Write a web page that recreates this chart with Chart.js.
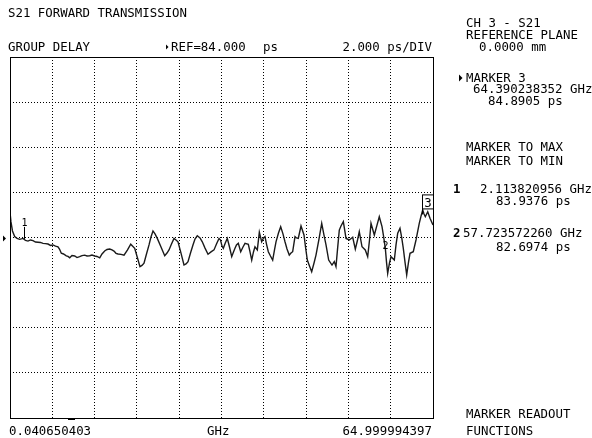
<!DOCTYPE html>
<html>
<head>
<meta charset="utf-8">
<script src="https://cdn.jsdelivr.net/npm/chart.js@4.4.1/dist/chart.umd.min.js"></script>
<style>
  html, body { margin: 0; padding: 0; background: #fff; }
  canvas { display: block; }
</style>
</head>
<body>
<canvas id="chart" width="592" height="438"></canvas>
<script>
/* ===== SWEEP / SCALE ===== */
const START_GHZ = 0.040650403;
const STOP_GHZ = 64.999994397;
const REF_PS = 84;
const PS_PER_DIV = 2;
const X_DIVS = 10;
const Y_DIVS = 8;

/* ===== TRACE ===== */
const freqGHz = [
  0.04, 0.19, 0.42, 0.76, 1.12, 1.53, 2.04, 2.42, 2.80, 3.19,
  3.57, 3.96, 4.34, 4.72, 5.11, 5.49, 5.88, 6.26, 6.64, 7.03,
  7.41, 7.64, 7.92, 8.26, 8.69, 8.95, 9.21, 9.56, 9.98, 10.33,
  10.74, 11.10, 11.51, 11.87, 12.28, 12.63, 13.05, 13.40, 13.82, 14.17,
  14.58, 14.94, 15.35, 15.70, 16.01, 16.32, 16.63, 17.09, 17.55, 18.09,
  18.58, 18.85, 19.19, 19.62, 20.00, 20.31, 20.62, 21.00, 21.39, 21.69,
  22.00, 22.31, 22.66, 23.23, 23.80, 24.15, 24.46, 24.84, 25.23, 25.53,
  25.84, 26.30, 26.76, 27.07, 27.38, 27.76, 28.14, 28.45, 28.80, 29.22,
  29.57, 29.99, 30.45, 30.91, 31.37, 31.75, 32.14, 32.37, 32.60, 32.80,
  33.10, 33.41, 33.75, 34.09, 34.36, 34.59, 34.82, 35.10, 35.47, 35.82,
  36.13, 36.64, 36.90, 37.16, 37.43, 37.66, 38.02, 38.33, 38.69, 38.97,
  39.20, 39.43, 39.71, 40.04, 40.38, 40.66, 40.89, 41.27, 41.61, 41.96,
  42.27, 42.58, 42.93, 43.19, 43.45, 43.81, 44.04, 44.31, 44.73, 45.19,
  45.42, 45.70, 46.03, 46.37, 46.73, 47.03, 47.49, 47.91, 48.26, 48.57,
  48.98, 49.49, 49.84, 50.10, 50.33, 50.61, 50.87, 51.23, 51.49, 51.64,
  52.15, 52.67, 53.07, 53.41, 53.68, 54.10, 54.60, 54.97, 55.25, 55.48,
  55.99, 56.40, 56.75, 57.17, 57.40, 57.68, 57.86, 58.04, 58.32, 58.55,
  59.06, 59.32, 59.58, 59.93, 60.20, 60.44, 60.70, 60.96, 61.24, 61.47,
  61.97, 62.39, 62.89, 63.16, 63.42, 63.62, 63.82, 64.19, 64.54, 65.00
];
const delayPs = [
  85.13, 84.69, 84.29, 84.04, 83.96, 83.92, 83.96, 83.87, 83.84, 83.89,
  83.86, 83.80, 83.79, 83.78, 83.74, 83.73, 83.71, 83.65, 83.67, 83.62,
  83.59, 83.49, 83.30, 83.27, 83.19, 83.16, 83.10, 83.20, 83.18, 83.11,
  83.15, 83.20, 83.22, 83.18, 83.19, 83.22, 83.18, 83.16, 83.10, 83.27,
  83.40, 83.47, 83.49, 83.45, 83.40, 83.30, 83.27, 83.25, 83.22, 83.45,
  83.70, 83.62, 83.52, 83.09, 82.71, 82.76, 82.86, 83.27, 83.67, 84.02,
  84.29, 84.16, 83.96, 83.58, 83.19, 83.31, 83.45, 83.71, 83.96, 83.89,
  83.81, 83.31, 82.78, 82.83, 82.93, 83.31, 83.67, 83.93, 84.08, 83.98,
  83.81, 83.53, 83.26, 83.36, 83.45, 83.71, 83.96, 83.89, 83.62, 83.52,
  83.76, 83.96, 83.58, 83.15, 83.36, 83.52, 83.67, 83.74, 83.37, 83.58,
  83.74, 83.70, 83.36, 83.00, 83.36, 83.59, 83.45, 84.23, 83.81, 83.98,
  84.04, 83.71, 83.37, 83.18, 83.00, 83.45, 83.81, 84.20, 84.48, 84.16,
  83.81, 83.49, 83.22, 83.31, 83.37, 84.04, 83.98, 83.96, 84.51, 84.11,
  83.58, 83.00, 82.74, 82.48, 82.87, 83.22, 83.93, 84.63, 84.11, 83.67,
  83.00, 82.78, 82.93, 82.71, 83.45, 84.33, 84.51, 84.70, 84.24, 83.96,
  83.89, 84.01, 83.48, 83.89, 84.26, 83.59, 83.45, 83.15, 83.89, 84.63,
  84.11, 84.55, 84.92, 84.48, 84.07, 83.52, 82.91, 82.41, 82.87, 83.15,
  83.00, 83.67, 84.19, 84.41, 83.98, 83.52, 82.91, 82.34, 82.91, 83.30,
  83.37, 83.89, 84.63, 84.95, 85.22, 85.04, 84.92, 85.14, 84.85, 84.55
];

/* ===== MARKERS ===== */
const markerNames = ["1", "2", "3"];
const markerGHz = [2.113820956, 57.72357226, 64.390238352];
const markerPs = [83.9376, 82.6974, 84.8905];
const markerFreqText = ["2.113820956 GHz", "57.723572260 GHz", "64.390238352 GHz"];
const markerPsText = ["83.9376 ps", "82.6974 ps", "84.8905 ps"];

const FONT = '12.4px "DejaVu Sans Mono", monospace';
const BOLD = 'bold 12.4px "DejaVu Sans Mono", monospace';

/* ===== ANNOTATION PLUGIN ===== */
const screenText = {
  id: "screenText",
  afterDraw(chart) {
    const ctx = chart.ctx;
    const a = chart.chartArea;
    const xs = chart.scales.x;
    const ys = chart.scales.y;

    ctx.save();
    // frame
    ctx.strokeStyle = "#000";
    ctx.lineWidth = 1;
    ctx.strokeRect(Math.round(a.left) + 0.5, Math.round(a.top) + 0.5,
      Math.round(a.right - a.left), Math.round(a.bottom - a.top));

    ctx.fillStyle = "#000";
    ctx.font = FONT;
    ctx.textBaseline = "alphabetic";
    ctx.textAlign = "left";

    // header
    ctx.fillText("S21 FORWARD TRANSMISSION", 8, 17);
    ctx.fillText("GROUP DELAY", 8, 51);
    ctx.fillText("REF=" + REF_PS.toFixed(3), 171, 51);
    ctx.fillText("ps", 263, 51);
    ctx.textAlign = "right";
    ctx.fillText(PS_PER_DIV.toFixed(3) + " ps/DIV", 432, 51);
    ctx.textAlign = "left";

    // small arrows
    const tri = (x, y, s) => {
      ctx.beginPath();
      ctx.moveTo(x, y - s);
      ctx.lineTo(x + s, y);
      ctx.lineTo(x, y + s);
      ctx.closePath();
      ctx.fill();
    };
    tri(166, 47, 2.5);
    tri(459, 78, 3.5);
    tri(3, Math.round(ys.getPixelForValue(REF_PS)) + 0.5, 3);

    // right panel
    ctx.fillText("CH 3 - S21", 466, 27);
    ctx.fillText("REFERENCE PLANE", 466, 39);
    ctx.fillText("0.0000 mm", 479, 51);
    ctx.fillText("MARKER 3", 466, 82);
    ctx.fillText(markerFreqText[2], 473, 93);
    ctx.fillText(markerPsText[2], 488, 105);
    ctx.fillText("MARKER TO MAX", 466, 151);
    ctx.fillText("MARKER TO MIN", 466, 165);
    ctx.font = BOLD;
    ctx.fillText(markerNames[0], 453, 193);
    ctx.fillText(markerNames[1], 453, 237);
    ctx.font = FONT;
    ctx.fillText(markerFreqText[0], 480, 193);
    ctx.fillText(markerPsText[0], 496, 205);
    ctx.fillText(markerFreqText[1], 463, 237);
    ctx.fillText(markerPsText[1], 496, 251);
    ctx.fillText("MARKER READOUT", 466, 418);
    ctx.fillText("FUNCTIONS", 466, 435);

    // x axis annotation
    ctx.fillText(START_GHZ.toFixed(9), 9, 435);
    ctx.fillText("GHz", 207, 435);
    ctx.textAlign = "right";
    ctx.fillText(STOP_GHZ.toFixed(9), 432, 435);
    ctx.textAlign = "left";
    ctx.fillRect(68, 418, 7, 2);

    // markers
    ctx.lineWidth = 1;
    const m1x = Math.round(xs.getPixelForValue(markerGHz[0])) + 0.5;
    const m1y = ys.getPixelForValue(markerPs[0]);
    ctx.beginPath();
    ctx.moveTo(m1x, m1y);
    ctx.lineTo(m1x, m1y - 12);
    ctx.stroke();
    ctx.font = '10px "DejaVu Sans Mono", monospace';
    ctx.textAlign = "center";
    ctx.fillText(markerNames[0], m1x, m1y - 13);

    const m2x = xs.getPixelForValue(markerGHz[1]);
    const m2y = ys.getPixelForValue(markerPs[1]);
    ctx.fillText(markerNames[1], m2x, m2y - 18);

    const m3x = Math.round(xs.getPixelForValue(markerGHz[2]));
    const m3y = ys.getPixelForValue(markerPs[2]);
    ctx.strokeRect(m3x - 6.5, m3y - 22.5, 11, 14);
    ctx.font = FONT;
    ctx.fillText(markerNames[2], m3x - 1, m3y - 10.5);
    ctx.beginPath();
    ctx.moveTo(m3x - 6.5, m3y - 8.5);
    ctx.lineTo(m3x - 6.5, m3y - 3);
    ctx.moveTo(m3x + 4.5, m3y - 8.5);
    ctx.lineTo(m3x + 4.5, m3y - 3);
    ctx.stroke();
    ctx.restore();
  },
};

/* ===== CHART ===== */
const xTicks = [];
for (let i = 0; i <= X_DIVS; i++) xTicks.push(START_GHZ + (STOP_GHZ - START_GHZ) * i / X_DIVS);

new Chart(document.getElementById("chart"), {
  type: "line",
  data: {
    datasets: [{
      data: freqGHz.map((f, i) => ({ x: f, y: delayPs[i] })),
      borderColor: "#1a1a1a",
      borderWidth: 1.4,
      pointRadius: 0,
      tension: 0,
      fill: false,
    }],
  },
  options: {
    responsive: false,
    animation: false,
    devicePixelRatio: 1,
    layout: { padding: { left: 10, right: 159, top: 57, bottom: 20 } },
    plugins: { legend: { display: false }, tooltip: { enabled: false } },
    scales: {
      x: {
        type: "linear",
        min: START_GHZ,
        max: STOP_GHZ,
        afterBuildTicks: (s) => { s.ticks = xTicks.map((v) => ({ value: v })); },
        ticks: { display: false },
        grid: { color: "#000", lineWidth: 1, drawTicks: false },
        border: { display: false, dash: [1, 2] },
      },
      y: {
        min: REF_PS - PS_PER_DIV * Y_DIVS / 2,
        max: REF_PS + PS_PER_DIV * Y_DIVS / 2,
        ticks: { display: false, stepSize: PS_PER_DIV },
        grid: { color: "#000", lineWidth: 1, drawTicks: false },
        border: { display: false, dash: [1, 2] },
      },
    },
  },
  plugins: [screenText],
});
</script>
</body>
</html>
